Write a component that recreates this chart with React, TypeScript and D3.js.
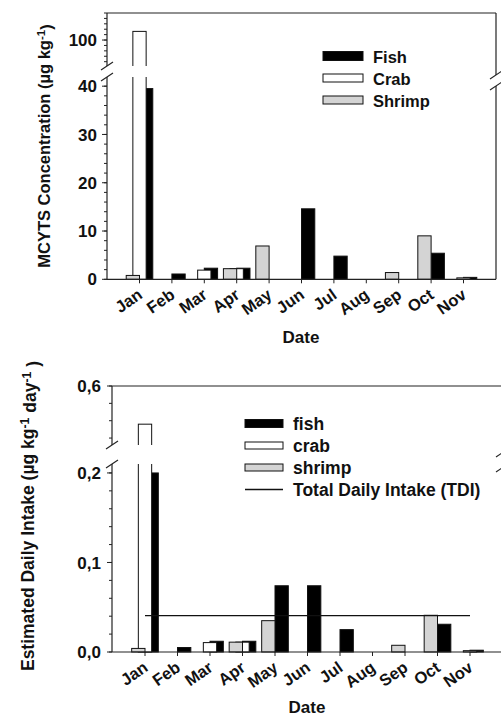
import React from 'react';
import * as d3 from 'd3';

const FONT = "'Liberation Sans', Arial, Helvetica, sans-serif";
const GRAY = '#d4d4d4';

const months = ['Jan', 'Feb', 'Mar', 'Apr', 'May', 'Jun', 'Jul', 'Aug', 'Sep', 'Oct', 'Nov'];

// Top panel: MCYTS concentration (µg kg-1)
const concFish = [39.5, 1.1, 2.3, 2.3, 0, 14.6, 4.8, 0, 0, 5.4, 0.4];
const concCrab = [108, 0, 1.9, 2.2, 0, 0, 0, 0, 0, 0, 0.3];
const concShrimp = [0.8, 0, 0, 2.2, 6.9, 0, 0, 0, 1.4, 9.0, 0];
const concLowerTicks = [0, 10, 20, 30, 40];
const concUpperTicks = [100];
const concLegend = ['Fish', 'Crab', 'Shrimp'];

// Bottom panel: Estimated daily intake (µg kg-1 day-1)
const intakeFish = [0.2, 0.005, 0.012, 0.012, 0.074, 0.074, 0.025, 0, 0, 0.031, 0.002];
const intakeCrab = [0.49, 0, 0.0105, 0.011, 0, 0, 0, 0, 0, 0, 0.0015];
const intakeShrimp = [0.004, 0, 0, 0.011, 0.035, 0, 0, 0, 0.0075, 0.041, 0];
const intakeTDI = 0.0406;
const intakeLowerTicks = [0, 0.1, 0.2];
const intakeUpperTicks = [0.6];
const intakeLegend = ['fish', 'crab', 'shrimp', 'Total Daily Intake (TDI)'];

type Cfg = {
  L: number; R: number; T: number; B: number;
  gapTop: number; gapBot: number; rGapTop: number; rGapBot: number;
  lowerMax: number; upperMin: number; upperMax: number;
  lowerMinor: number; upperMinor: number;
  lowerTicks: number[]; upperTicks: number[];
  fmt: (v: number) => string;
  x0: number; x1: number;
  fish: number[]; crab: number[]; shrimp: number[];
  tdi?: number;
  legend: string[]; legX: number; legW: number; legTextX: number; legY0: number; legStep: number; legFont: number;
  legH: number[];
  titleLines: React.ReactNode; titleX: number; titleY: number; titleFont: number;
  dateX: number; dateY: number;
  tickLabelGap: number;
};

function Breaks({ x, y1, y2 }: { x: number; y1: number; y2: number }) {
  return (
    <g stroke="#222" strokeWidth={1.1}>
      <line x1={x - 6} y1={y1 + 4} x2={x + 6} y2={y1 - 4} />
      <line x1={x - 6} y1={y2 + 4} x2={x + 6} y2={y2 - 4} />
    </g>
  );
}

function Panel(p: Cfg) {
  const x = d3.scalePoint<string>().domain(months).range([p.x0, p.x1]);
  const w = x.step() * 0.41;
  const lo = d3.scaleLinear().domain([0, p.lowerMax]).range([p.B, p.gapBot]);
  const up = d3.scaleLinear().domain([p.upperMin, p.upperMax]).range([p.gapTop, p.T]);
  const y = (v: number) => (v <= p.lowerMax ? lo(v) : up(v));

  const defs = [
    { vals: p.fish, fill: '#000', off: 0 },
    { vals: p.crab, fill: '#fff', off: -0.5 },
    { vals: p.shrimp, fill: GRAY, off: -1 },
  ];
  const bars: React.ReactNode[] = [];
  defs.forEach((s, si) =>
    s.vals.forEach((v, i) => {
      if (!v) return;
      const bx = (x(months[i]) as number) + s.off * w;
      const by = y(v);
      bars.push(
        <rect key={`b${si}-${i}`} x={bx} y={by} width={w} height={p.B - by} fill={s.fill} stroke="#111" strokeWidth={1} />
      );
      if (v > p.lowerMax) {
        bars.push(
          <rect key={`g${si}-${i}`} x={bx - 1.5} y={p.gapTop} width={w + 3} height={p.gapBot - p.gapTop} fill="#fff" />
        );
      }
    })
  );

  const lowerMinors = d3.range(0, p.lowerMax + 1e-9, p.lowerMinor);
  const upStart = Math.ceil(p.upperMin / p.upperMinor - 1e-9) * p.upperMinor;
  const upperMinors = d3.range(upStart, p.upperMax + 1e-9, p.upperMinor);
  const majors = [...p.lowerTicks.map((v) => ({ v, y: lo(v) })), ...p.upperTicks.map((v) => ({ v, y: up(v) }))];
  const minors = [...lowerMinors.map((v) => lo(v)), ...upperMinors.map((v) => up(v))];

  return (
    <g>
      {bars}
      {p.tdi !== undefined && (
        <line x1={p.x0} x2={p.x1} y1={lo(p.tdi)} y2={lo(p.tdi)} stroke="#111" strokeWidth={1.4} />
      )}
      {/* frame */}
      <g stroke="#222" strokeWidth={1.2} fill="none">
        <line x1={p.L} x2={p.R} y1={p.T} y2={p.T} />
        <line x1={p.L} x2={p.R} y1={p.B} y2={p.B} />
        <line x1={p.L} x2={p.L} y1={p.B} y2={p.gapBot} />
        <line x1={p.L} x2={p.L} y1={p.gapTop} y2={p.T} />
        <line x1={p.R} x2={p.R} y1={p.B} y2={p.rGapBot} />
        <line x1={p.R} x2={p.R} y1={p.rGapTop} y2={p.T} />
      </g>
      <Breaks x={p.L} y1={p.gapTop} y2={p.gapBot} />
      <Breaks x={p.R} y1={p.rGapTop} y2={p.rGapBot} />
      {/* y ticks */}
      <g stroke="#222" strokeWidth={1}>
        {minors.map((yy, i) => (
          <line key={`mn${i}`} x1={p.L - 3} x2={p.L} y1={yy} y2={yy} />
        ))}
        {majors.map((m, i) => (
          <line key={`mj${i}`} x1={p.L - 5} x2={p.L} y1={m.y} y2={m.y} />
        ))}
      </g>
      {majors.map((m, i) => (
        <text key={`ml${i}`} x={p.L - p.tickLabelGap} y={m.y} dy="0.36em" textAnchor="end" fontSize={17} fontWeight="bold" fill="#111">
          {p.fmt(m.v)}
        </text>
      ))}
      {/* x ticks */}
      <g stroke="#222" strokeWidth={1}>
        {months.map((m) => (
          <line key={`xt${m}`} x1={x(m)} x2={x(m)} y1={p.B} y2={p.B + 4} />
        ))}
      </g>
      {months.map((m) => (
        <text
          key={`xl${m}`}
          transform={`translate(${(x(m) as number) + 4},${p.B + 18}) rotate(-35)`}
          textAnchor="end"
          fontSize={16.5}
          fontWeight="bold"
          fill="#111"
        >
          {m}
        </text>
      ))}
      {/* axis titles */}
      <text x={p.dateX} y={p.dateY} textAnchor="middle" fontSize={17} fontWeight="bold" fill="#111">
        Date
      </text>
      <text
        transform={`translate(${p.titleX},${p.titleY}) rotate(-90)`}
        textAnchor="middle"
        fontSize={p.titleFont}
        fontWeight="bold"
        fill="#111"
      >
        {p.titleLines}
      </text>
      {/* legend */}
      {p.legend.map((lab, i) => {
        const by = p.legY0 + i * p.legStep;
        const cy = by - 6.5;
        const fills = ['#000', '#fff', GRAY];
        return (
          <g key={`lg${i}`}>
            {i < 3 ? (
              <rect x={p.legX} y={cy - p.legH[i] / 2} width={p.legW} height={p.legH[i]} fill={fills[i]} stroke="#111" strokeWidth={1} />
            ) : (
              <line x1={p.legX} x2={p.legX + p.legW} y1={cy} y2={cy} stroke="#111" strokeWidth={1.4} />
            )}
            <text x={p.legTextX} y={by} fontSize={p.legFont} fontWeight="bold" fill="#111">
              {lab}
            </text>
          </g>
        );
      })}
    </g>
  );
}

const fmtInt = (v: number) => d3.format('d')(v);
const fmtComma = (v: number) => d3.format('.1f')(v).replace('.', ',');

const topCfg: Cfg = {
  L: 107, R: 496, T: 13, B: 279.3,
  gapTop: 66, gapBot: 77, rGapTop: 75, rGapBot: 86,
  lowerMax: 41.9, upperMin: 76, upperMax: 125,
  lowerMinor: 2, upperMinor: 5,
  lowerTicks: concLowerTicks, upperTicks: concUpperTicks,
  fmt: fmtInt,
  x0: 139.5, x1: 463.5,
  fish: concFish, crab: concCrab, shrimp: concShrimp,
  legend: concLegend, legX: 323, legW: 40, legTextX: 373, legY0: 62.5, legStep: 22, legFont: 16.5,
  legH: [9, 8, 8],
  titleLines: (
    <>
      MCYTS Concentration (µg kg
      <tspan dy="-0.45em" fontSize="0.7em">-1</tspan>
      <tspan dy="0.45em">)</tspan>
    </>
  ),
  titleX: 50, titleY: 146, titleFont: 16.5,
  dateX: 301, dateY: 343,
  tickLabelGap: 10,
};

const botCfg: Cfg = {
  L: 112, R: 502, T: 386, B: 652,
  gapTop: 445, gapBot: 464, rGapTop: 453, rGapBot: 468,
  lowerMax: 0.21, upperMin: 0.43, upperMax: 0.6,
  lowerMinor: 0.02, upperMinor: 0.05,
  lowerTicks: intakeLowerTicks, upperTicks: intakeUpperTicks,
  fmt: fmtComma,
  x0: 145, x1: 470,
  fish: intakeFish, crab: intakeCrab, shrimp: intakeShrimp,
  tdi: intakeTDI,
  legend: intakeLegend, legX: 245, legW: 38, legTextX: 293, legY0: 430, legStep: 22, legFont: 17.5,
  legH: [8, 7, 7],
  titleLines: (
    <>
      Estimated Daily Intake (µg kg
      <tspan dy="-0.45em" fontSize="0.7em">-1</tspan>
      <tspan dy="0.45em"> day</tspan>
      <tspan dy="-0.45em" fontSize="0.7em">-1</tspan>
      <tspan dy="0.45em"> )</tspan>
    </>
  ),
  titleX: 34, titleY: 516, titleFont: 17.5,
  dateX: 307, dateY: 713,
  tickLabelGap: 11,
};

export default function App() {
  return (
    <svg
      width={501}
      height={717}
      style={{ position: 'absolute', left: 0, top: 0, background: '#fff' }}
      fontFamily={FONT}
    >
      <rect width={501} height={717} fill="#fff" />
      <Panel {...topCfg} />
      <Panel {...botCfg} />
    </svg>
  );
}
